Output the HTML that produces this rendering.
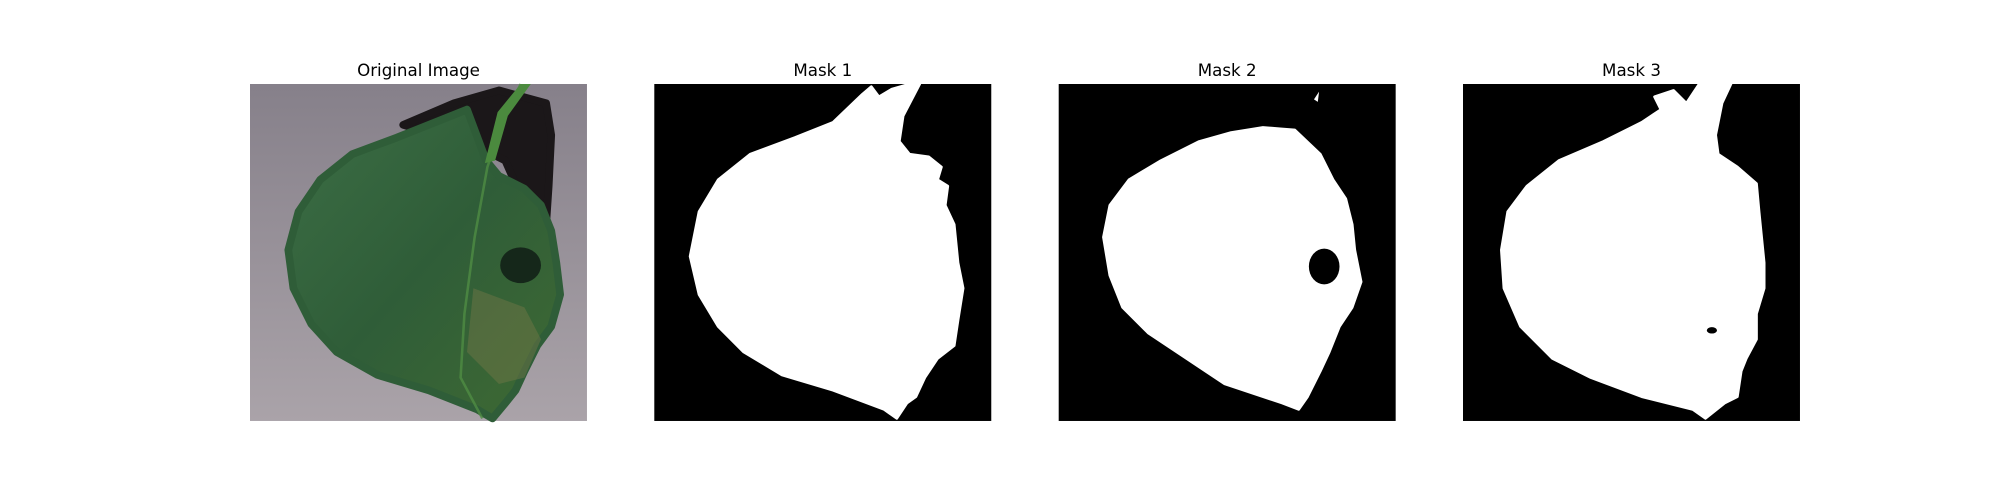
<!DOCTYPE html>
<html><head><meta charset="utf-8"><style>
html,body{margin:0;padding:0;background:#fff;width:2000px;height:500px;overflow:hidden}
svg{display:block}
text{font-family:"DejaVu Sans","Liberation Sans",sans-serif;font-size:16.7px;fill:#000}
</style></head><body>
<svg width="2000" height="500" viewBox="0 0 2000 500">
<defs>
<linearGradient id="bg" x1="0" y1="0" x2="0" y2="1"><stop offset="0" stop-color="#86808a"/><stop offset="1" stop-color="#aaa3a9"/></linearGradient>
<linearGradient id="lf" x1="0" y1="0" x2="1" y2="1"><stop offset="0" stop-color="#3c6e45"/><stop offset="0.5" stop-color="#2f5d38"/><stop offset="1" stop-color="#3f6a33"/></linearGradient>
</defs>
<text x="418.5" y="76" text-anchor="middle">Original Image</text>
<text x="822.8" y="76" text-anchor="middle">Mask 1</text>
<text x="1227.2" y="76" text-anchor="middle">Mask 2</text>
<text x="1631.5" y="76" text-anchor="middle">Mask 3</text>

<g transform="translate(250,84) scale(1.2764)">
<rect width="264" height="264" fill="url(#bg)"/>
<path d="M120,32 L160,15 L195,5 L232,15 L236,40 L234,80 L232,110 L222,110 L200,60 L180,50 Z" fill="#1b1719" stroke="#1b1719" stroke-width="6" stroke-linejoin="round"/>
<path d="M185,60 L195,72 L215,82 L228,95 L236,115 L240,140 L243,165 L236,190 L225,205 L215,225 L208,240 L200,250 L190,262 L178,255 L140,240 L100,228 L68,210 L48,188 L34,160 L30,130 L38,100 L55,75 L80,55 L115,42 L145,30 L170,20 Z" fill="url(#lf)" stroke="#2f5d38" stroke-width="6" stroke-linejoin="round"/>
<path d="M212,0 L200,25 L186,65 L176,120 L168,180 L165,230 L182,262" fill="none" stroke="#4f8c44" stroke-width="2" opacity="0.8"/>
<path d="M212,0 L220,0 L202,25 L192,60 L184,62 L194,22 Z" fill="#4b8a3e"/>
<ellipse cx="212" cy="142" rx="16" ry="14" fill="#15271a"/>
<path d="M175,160 L215,175 L228,200 L215,230 L195,235 L170,210 Z" fill="#7c7a4a" opacity="0.4"/>
</g>

<g transform="translate(654.3,84) scale(1.2764)">
<rect width="264" height="264" fill="#000"/>
<path d="M163,8 L170,2 L176,10 L186,4 L200,0 L208,0 L195,25 L192,45 L200,55 L215,57 L225,65 L222,75 L230,80 L228,95 L235,110 L238,140 L242,160 L238,185 L235,205 L222,215 L212,230 L205,245 L198,250 L190,262 L180,255 L140,240 L100,228 L70,210 L50,190 L35,165 L28,135 L35,100 L50,75 L75,55 L110,42 L140,30 Z" fill="#fff" stroke="#fff" stroke-width="2" stroke-linejoin="round"/>
</g>

<g transform="translate(1058.7,84) scale(1.2764)">
<rect width="264" height="264" fill="#000"/>
<path d="M135,38 L160,34 L185,36 L205,55 L215,75 L225,90 L230,110 L232,130 L237,155 L230,175 L220,190 L212,210 L205,225 L195,245 L188,255 L175,250 L130,235 L100,215 L70,195 L50,175 L40,150 L35,120 L40,95 L55,75 L80,60 L110,45 Z" fill="#fff" stroke="#fff" stroke-width="2" stroke-linejoin="round"/>
<ellipse cx="208" cy="143" rx="12" ry="14" fill="#000"/>
<path d="M200,12 L204,6 L203,14 Z" fill="#fff"/>
</g>

<g transform="translate(1463,84) scale(1.2764)">
<rect width="264" height="264" fill="#000"/>
<path d="M185,0 L210,0 L203,15 L198,40 L200,55 L215,65 L230,78 L232,100 L236,140 L236,160 L230,180 L230,200 L222,215 L218,225 L215,245 L205,250 L190,262 L180,255 L140,245 L100,230 L70,215 L45,190 L32,160 L30,130 L35,100 L50,80 L75,60 L110,45 L140,30 L155,20 L150,10 L165,5 L175,15 Z" fill="#fff" stroke="#fff" stroke-width="2" stroke-linejoin="round"/>
<ellipse cx="195" cy="193" rx="4" ry="2.5" fill="#000"/>
</g>
</svg>
</body></html>
